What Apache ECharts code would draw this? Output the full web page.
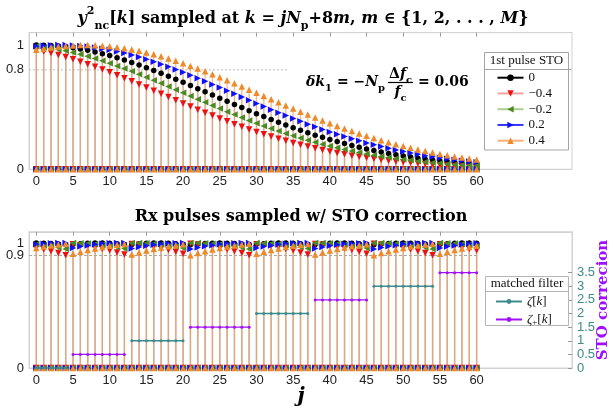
<!DOCTYPE html>
<html><head><meta charset="utf-8">
<script src="https://cdn.jsdelivr.net/npm/echarts@6/dist/echarts.min.js"></script>
<style>html,body{margin:0;padding:0;background:#fff}#c{width:613px;height:409px}</style>
</head><body><div id="c"></div>
<script>
// ---------- data ----------
const jValues = [0,1,2,3,4,5,6,7,8,9,10,11,12,13,14,15,16,17,18,19,20,21,22,23,24,25,26,27,28,29,30,
  31,32,33,34,35,36,37,38,39,40,41,42,43,44,45,46,47,48,49,50,51,52,53,54,55,56,57,58,59,60];
const xTicks = [0,5,10,15,20,25,30,35,40,45,50,55,60];
const topYTicks = [0,0.8,1];
const botYTicks = [0,0.9,1];
const rightTicks = [0,0.5,1,1.5,2,2.5,3,3.5];
const stoLabels = ['0','\u22120.4','\u22120.2','0.2','0.4'];
const topRefLevel = 0.8, topRefEnd = 34.2;
const botRefLevel = 0.9, botRefEnd = 60;

const topBlack = [1.000,0.999,0.996,0.992,0.986,0.978,0.968,0.957,0.944,0.930,
 0.915,0.898,0.879,0.860,0.839,0.818,0.796,0.773,0.749,0.724,
 0.700,0.675,0.649,0.624,0.598,0.572,0.547,0.522,0.497,0.472,
 0.448,0.424,0.401,0.378,0.356,0.335,0.314,0.295,0.275,0.257,
 0.240,0.223,0.207,0.192,0.178,0.164,0.151,0.139,0.128,0.117,
 0.107,0.098,0.089,0.081,0.074,0.067,0.061,0.055,0.050,0.045,
 0.040];
const topRed = [0.961,0.948,0.935,0.920,0.904,0.885,0.866,0.846,0.825,0.803,
 0.781,0.757,0.732,0.708,0.683,0.658,0.632,0.607,0.581,0.555,
 0.530,0.505,0.480,0.456,0.432,0.409,0.386,0.363,0.342,0.321,
 0.301,0.282,0.263,0.246,0.229,0.212,0.197,0.183,0.169,0.155,
 0.143,0.132,0.121,0.110,0.101,0.092,0.084,0.076,0.069,0.063,
 0.057,0.052,0.047,0.042,0.037,0.033,0.030,0.027,0.024,0.021,
 0.019];
const topGreen = [0.990,0.983,0.975,0.964,0.953,0.939,0.925,0.909,0.892,0.873,
 0.853,0.832,0.811,0.788,0.765,0.741,0.716,0.692,0.666,0.641,
 0.615,0.589,0.564,0.539,0.514,0.489,0.464,0.440,0.416,0.393,
 0.371,0.349,0.328,0.308,0.288,0.269,0.251,0.234,0.218,0.202,
 0.187,0.173,0.160,0.147,0.135,0.124,0.114,0.104,0.095,0.086,
 0.079,0.072,0.065,0.059,0.053,0.048,0.043,0.039,0.035,0.031,
 0.028];
const topBlue = [0.990,0.995,0.998,1.000,1.000,0.997,0.993,0.988,0.981,0.971,
 0.961,0.948,0.935,0.920,0.904,0.885,0.866,0.846,0.825,0.803,
 0.781,0.757,0.732,0.708,0.683,0.658,0.632,0.607,0.581,0.555,
 0.530,0.505,0.480,0.456,0.432,0.409,0.386,0.363,0.342,0.321,
 0.301,0.282,0.263,0.246,0.229,0.212,0.197,0.183,0.169,0.155,
 0.143,0.132,0.121,0.110,0.101,0.092,0.084,0.076,0.069,0.063,
 0.057];
const topOrange = [0.961,0.971,0.981,0.988,0.993,0.997,1.000,1.000,0.998,0.995,
 0.990,0.983,0.975,0.964,0.953,0.939,0.925,0.909,0.892,0.873,
 0.853,0.832,0.811,0.788,0.765,0.741,0.716,0.692,0.666,0.641,
 0.615,0.589,0.564,0.539,0.514,0.489,0.464,0.440,0.416,0.393,
 0.371,0.349,0.328,0.308,0.288,0.269,0.251,0.234,0.218,0.202,
 0.187,0.173,0.160,0.147,0.135,0.124,0.114,0.104,0.095,0.086,
 0.079];

const botBlack = [1.000,0.999,0.996,0.992,0.986,0.990,0.995,0.998,1.000,1.000,
 0.998,0.994,0.988,0.988,0.994,0.998,1.000,1.000,0.998,0.995,
 0.990,0.986,0.992,0.996,0.999,1.000,0.999,0.996,0.992,0.986,
 0.990,0.995,0.998,1.000,1.000,0.998,0.994,0.988,0.988,0.994,
 0.998,1.000,1.000,0.998,0.995,0.990,0.986,0.992,0.996,0.999,
 1.000,0.999,0.996,0.992,0.986,0.990,0.995,0.998,1.000,1.000,
 0.998];
const botRed = [0.961,0.949,0.935,0.920,0.903,0.990,0.983,0.975,0.965,0.953,
 0.940,0.925,0.909,0.992,0.986,0.978,0.968,0.957,0.944,0.930,
 0.915,0.994,0.988,0.981,0.972,0.961,0.949,0.935,0.920,0.903,
 0.990,0.983,0.975,0.965,0.953,0.940,0.925,0.909,0.992,0.986,
 0.978,0.968,0.957,0.944,0.930,0.915,0.994,0.988,0.981,0.972,
 0.961,0.949,0.935,0.920,0.903,0.990,0.983,0.975,0.965,0.953,
 0.940];
const botGreen = [0.990,0.983,0.975,0.965,0.953,1.000,0.999,0.996,0.992,0.986,
 0.978,0.968,0.957,1.000,1.000,0.998,0.994,0.988,0.981,0.972,
 0.961,1.000,1.000,0.998,0.995,0.990,0.983,0.975,0.965,0.953,
 1.000,0.999,0.996,0.992,0.986,0.978,0.968,0.957,1.000,1.000,
 0.998,0.994,0.988,0.981,0.972,0.961,1.000,1.000,0.998,0.995,
 0.990,0.983,0.975,0.965,0.953,1.000,0.999,0.996,0.992,0.986,
 0.978];
const botBlue = [0.990,0.995,0.998,1.000,1.000,0.961,0.972,0.981,0.988,0.994,
 0.998,1.000,1.000,0.957,0.968,0.978,0.986,0.992,0.996,0.999,
 1.000,0.953,0.965,0.975,0.983,0.990,0.995,0.998,1.000,1.000,
 0.961,0.972,0.981,0.988,0.994,0.998,1.000,1.000,0.957,0.968,
 0.978,0.986,0.992,0.996,0.999,1.000,0.953,0.965,0.975,0.983,
 0.990,0.995,0.998,1.000,1.000,0.961,0.972,0.981,0.988,0.994,
 0.998];
const botOrange = [0.961,0.972,0.981,0.988,0.994,0.915,0.930,0.944,0.957,0.968,
 0.978,0.986,0.992,0.909,0.925,0.940,0.953,0.965,0.975,0.983,
 0.990,0.903,0.920,0.935,0.949,0.961,0.972,0.981,0.988,0.994,
 0.915,0.930,0.944,0.957,0.968,0.978,0.986,0.992,0.909,0.925,
 0.940,0.953,0.965,0.975,0.983,0.990,0.903,0.920,0.935,0.949,
 0.961,0.972,0.981,0.988,0.994,0.915,0.930,0.944,0.957,0.968,
 0.978];

const zeta = [0,0,0,0,0, null,null,null,null,null,null,null,null,
 1,1,1,1,1,1,1,1, null,null,null,null,null,null,null,null,null,
 2,2,2,2,2,2,2,2, null,null,null,null,null,null,null,null,
 3,3,3,3,3,3,3,3,3, null,null,null,null,null,null];
const zetaPlus = [null,null,null,null,null, 0.5,0.5,0.5,0.5,0.5,0.5,0.5,0.5,
 null,null,null,null,null,null,null,null, 1.5,1.5,1.5,1.5,1.5,1.5,1.5,1.5,1.5,
 null,null,null,null,null,null,null,null, 2.5,2.5,2.5,2.5,2.5,2.5,2.5,2.5,
 null,null,null,null,null,null,null,null,null, 3.5,3.5,3.5,3.5,3.5,3.5];

// ---------- styles ----------
const UP='path://M5,0L10,10L0,10Z', DOWN='path://M0,0L10,0L5,10Z',
      LEFT='path://M0,5L10,0L10,10Z', RIGHT='path://M0,0L10,5L0,10Z';
const STO = [
 {name:stoLabels[0], top:topBlack, bot:botBlack, color:'#000000', line:'#000000', stem:'#9a9a9a', a:0.25, symbol:'circle', size:5.5},
 {name:stoLabels[1], top:topRed, bot:botRed, color:'#ee1111', line:'#f4a3a3', stem:'#f4a3a3', a:0.35, symbol:DOWN, size:6.5},
 {name:stoLabels[2], top:topGreen, bot:botGreen, color:'#4a8a22', line:'#a9d18e', stem:'#a9d18e', a:0.35, symbol:LEFT, size:6.5},
 {name:stoLabels[3], top:topBlue, bot:botBlue, color:'#1010ff', line:'#3434ff', stem:'#8080ff', a:0.3, symbol:RIGHT, size:6.5},
 {name:stoLabels[4], top:topOrange, bot:botOrange, color:'#ee8a2a', line:'#f3b27a', stem:'#f0a05a', a:0.75, symbol:UP, size:6.5}
];
const SERIF = '"DejaVu Serif", serif';
const LSERIF = '"Liberation Serif", serif';
const SANS = '"Liberation Sans", Arial, sans-serif';
const FRAME = '#d2d2d2';
const TEAL = '#3f8a8a', PURPLE = '#a010ff';

function stem(vals, color, alpha, xi, yi) {
  return {type:'custom', xAxisIndex:xi, yAxisIndex:yi, silent:true, z:2,
    data: jValues.map((j,i)=>[j, vals[i]]), encode:{x:0,y:1},
    renderItem:(p, api)=>{
      const a = api.coord([api.value(0), 0]);
      const b = api.coord([api.value(0), api.value(1)]);
      return {type:'line', shape:{x1:a[0],y1:a[1],x2:b[0],y2:b[1]},
        style:{stroke:color, lineWidth:1.3, opacity:alpha}};
    }};
}
function marks(vals, s, xi, yi) {
  return {type:'scatter', xAxisIndex:xi, yAxisIndex:yi, silent:true, z:3,
    symbol:s.symbol, symbolSize:s.size, itemStyle:{color:s.color, opacity:1},
    data: jValues.map((j,i)=>[j, vals[i]])};
}
const zeros = jValues.map(()=>0);

const series = [];
STO.forEach(s=>{ series.push(stem(s.top, s.stem, s.a, 0, 0)); series.push(stem(s.bot, s.stem, s.a, 2, 1)); });
STO.forEach(s=>{
  series.push(marks(zeros, s, 0, 0)); series.push(marks(s.top, s, 0, 0));
  series.push(marks(zeros, s, 2, 1)); series.push(marks(s.bot, s, 2, 1));
});
// legend proxies
STO.forEach(s=>{
  series.push({type:'line', name:s.name, xAxisIndex:0, yAxisIndex:0, data:[], symbol:s.symbol, symbolSize:6,
    lineStyle:{color:s.line, width:1}, itemStyle:{color:s.color}});
});
// reference lines
series.push({type:'line', xAxisIndex:0, yAxisIndex:0, silent:true, symbol:'none', z:1,
  data:[[-1, topRefLevel],[topRefEnd, topRefLevel]], lineStyle:{color:'#bdbdbd', width:1, type:[2,2]}});
series.push({type:'line', xAxisIndex:2, yAxisIndex:1, silent:true, symbol:'none', z:1,
  data:[[-1, botRefLevel],[botRefEnd, botRefLevel]], lineStyle:{color:'#a8a8a8', width:1, type:[3,2]}});
// STO correction lines
series.push({type:'line', name:'zeta', xAxisIndex:2, yAxisIndex:2, z:4, connectNulls:false,
  data: jValues.map((j,i)=>[j, zeta[i]==null?'-':zeta[i]]), symbol:'circle', symbolSize:3,
  lineStyle:{color:TEAL, width:1.3}, itemStyle:{color:TEAL}});
series.push({type:'line', name:'zetaPlus', xAxisIndex:2, yAxisIndex:2, z:4, connectNulls:false,
  data: jValues.map((j,i)=>[j, zetaPlus[i]==null?'-':zetaPlus[i]]), symbol:'circle', symbolSize:3,
  lineStyle:{color:PURPLE, width:1.3}, itemStyle:{color:PURPLE}});

function xAx(grid, pos, labels) {
  return {type:'value', gridIndex:grid, position:pos, min:-1, max:73,
    axisLine:{show:true, onZero:false, lineStyle:{color:FRAME}},
    axisTick:{show:true, inside:true, length:4, customValues:xTicks, lineStyle:{color:'#9a9a9a'}},
    axisLabel:{show:labels, customValues:xTicks, fontFamily:SANS, fontSize:13, color:'#222', margin:6},
    splitLine:{show:false}};
}
function yAx(grid, pos, max, ticks, color, tick, line) {
  return {type:'value', gridIndex:grid, position:pos, min:0, max:max,
    axisLine:{show:line, onZero:false, lineStyle:{color:FRAME}},
    axisTick:{show:tick, inside:true, length:4, customValues:ticks, lineStyle:{color:'#9a9a9a'}},
    axisLabel:{customValues:ticks, fontFamily:SANS, fontSize:13, color:color, margin:5,
      showMinLabel:true, showMaxLabel:true, hideOverlap:false},
    splitLine:{show:false}};
}

const rich = {
  i:{fontFamily:SERIF, fontWeight:'bold', fontStyle:'italic', fontSize:16, lineHeight:26},
  n:{fontFamily:SERIF, fontWeight:'bold', fontSize:16, lineHeight:26},
  sup:{fontFamily:SERIF, fontWeight:'bold', fontSize:11, lineHeight:13, verticalAlign:'top'},
  sub:{fontFamily:SERIF, fontWeight:'bold', fontSize:11, lineHeight:13, verticalAlign:'bottom'}
};
const arich = {
  i:{fontFamily:SERIF, fontWeight:'bold', fontStyle:'italic', fontSize:14, lineHeight:22},
  n:{fontFamily:SERIF, fontWeight:'bold', fontSize:14, lineHeight:22},
  sub:{fontFamily:SERIF, fontWeight:'bold', fontSize:10, lineHeight:11, verticalAlign:'bottom'}
};

const option = {
  animation:false, backgroundColor:'#fff',
  grid:[
    {left:29, right:41, top:32.6, bottom:239.7, show:true, borderColor:FRAME, borderWidth:1, backgroundColor:'#fff'},
    {left:29, right:41, top:231.75, bottom:41, show:true, borderColor:FRAME, borderWidth:1, backgroundColor:'#fff'}
  ],
  xAxis:[xAx(0,'bottom',true), xAx(0,'top',false), xAx(1,'bottom',true), xAx(1,'top',false)],
  yAxis:[yAx(0,'left',1.1,topYTicks,'#222',false,true),
         yAx(1,'left',1.09,botYTicks.filter(v=>v!==0.9),'#222',false,true),
         yAx(1,'right',5,rightTicks,TEAL,true,true),
         yAx(1,'left',1.09,botYTicks.filter(v=>v===0.9),'#222',false,false)],
  legend:[
    {data:stoLabels, orient:'vertical', left:496.5, top:70.7, itemWidth:26, itemHeight:8, itemGap:1.75,
     padding:0, selectedMode:false, textStyle:{fontFamily:LSERIF, fontSize:13, color:'#111', lineHeight:14}},
    {data:['zeta','zetaPlus'], orient:'vertical', left:495, top:293.5, itemWidth:26, itemHeight:6, itemGap:2,
     padding:0, selectedMode:false,
     formatter:n=> n==='zeta' ? '{i|\u03b6}{a|[}{i|k}{a|]}' : '{i|\u03b6}{s|+}{a|[}{i|k}{a|]}',
     textStyle:{fontFamily:LSERIF, fontSize:13, color:'#111', lineHeight:14,
       rich:{i:{fontFamily:LSERIF, fontStyle:'italic', fontSize:13, lineHeight:16},
             a:{fontFamily:LSERIF, fontSize:13, lineHeight:16},
             s:{fontFamily:LSERIF, fontSize:9, lineHeight:8, verticalAlign:'bottom'}}}}
  ],
  series: series,
  graphic:[
    // titles
    {type:'text', x:303, y:19, z:10, style:{
      text:'{i|y}{sup|2}{sub|nc}{n|[}{i|k}{n|] sampled at }{i|k}{n| = }{i|jN}{sub|p}{n|+8}{i|m}{n|, }{i|m}{n| \u2208 {1, 2, . . . , }{i|M}{n|\u007d}',
      rich:rich, align:'center', verticalAlign:'middle', fill:'#000', font:'bold 16px '+SERIF}},
    {type:'text', x:301, y:217, z:10, style:{text:'Rx pulses sampled w/ STO correction',
      font:'bold 16px '+SERIF, fill:'#000', align:'center', verticalAlign:'middle'}},
    // annotation
    {type:'text', x:385, y:82, z:10, style:{text:'{i|\u03b4k}{sub|1}{n| = \u2212}{i|N}{sub|p}', rich:arich,
      align:'right', verticalAlign:'middle', fill:'#000', font:'bold 14px '+SERIF}},
    {type:'text', x:400.5, y:74, z:10, style:{text:'{n|\u0394}{i|f}{sub|c}', rich:arich,
      align:'center', verticalAlign:'middle', fill:'#000', font:'bold 14px '+SERIF}},
    {type:'text', x:400.5, y:92, z:10, style:{text:'{i|f}{sub|c}', rich:arich,
      align:'center', verticalAlign:'middle', fill:'#000', font:'bold 14px '+SERIF}},
    {type:'line', z:10, shape:{x1:388, y1:82.5, x2:413, y2:82.5}, style:{stroke:'#000', lineWidth:1.2}},
    {type:'text', x:418, y:82, z:10, style:{text:'= 0.06', align:'left', verticalAlign:'middle',
      fill:'#000', font:'bold 14px '+SERIF}},
    // top legend frame
    {type:'rect', z:1, shape:{x:484.5, y:52.5, width:84, height:97.5}, style:{fill:'none', stroke:'#a5a5a5', lineWidth:1}},
    {type:'line', z:1, shape:{x1:484.5, y1:69.5, x2:571.5, y2:69.5}, style:{stroke:'#a5a5a5', lineWidth:1}},
    {type:'text', x:526.5, y:61, z:10, style:{text:'1st pulse STO', font:'13px '+LSERIF, fill:'#111',
      align:'center', verticalAlign:'middle'}},
    // bottom legend frame
    {type:'rect', z:1, shape:{x:485.5, y:276.5, width:83, height:49}, style:{fill:'#fff', stroke:'#b5b5b5', lineWidth:1}},
    {type:'line', z:1, shape:{x1:485.5, y1:291.5, x2:568.5, y2:291.5}, style:{stroke:'#b5b5b5', lineWidth:1}},
    {type:'text', x:527, y:283.5, z:10, style:{text:'matched filter', font:'13px '+LSERIF, fill:'#111',
      align:'center', verticalAlign:'middle'}},
    // axis names
    {type:'text', x:301, y:397, z:10, style:{text:'j', font:'italic bold 20px '+SERIF, fill:'#000',
      align:'center', verticalAlign:'middle'}},
    {type:'text', x:603, y:300, rotation:Math.PI/2, z:10, style:{text:'STO correcion', font:'bold 15px '+SERIF,
      fill:PURPLE, align:'center', verticalAlign:'middle'}}
  ]
};
const chart = echarts.init(document.getElementById('c'), null, {renderer:'canvas'});
chart.setOption(option);
</script></body></html>
